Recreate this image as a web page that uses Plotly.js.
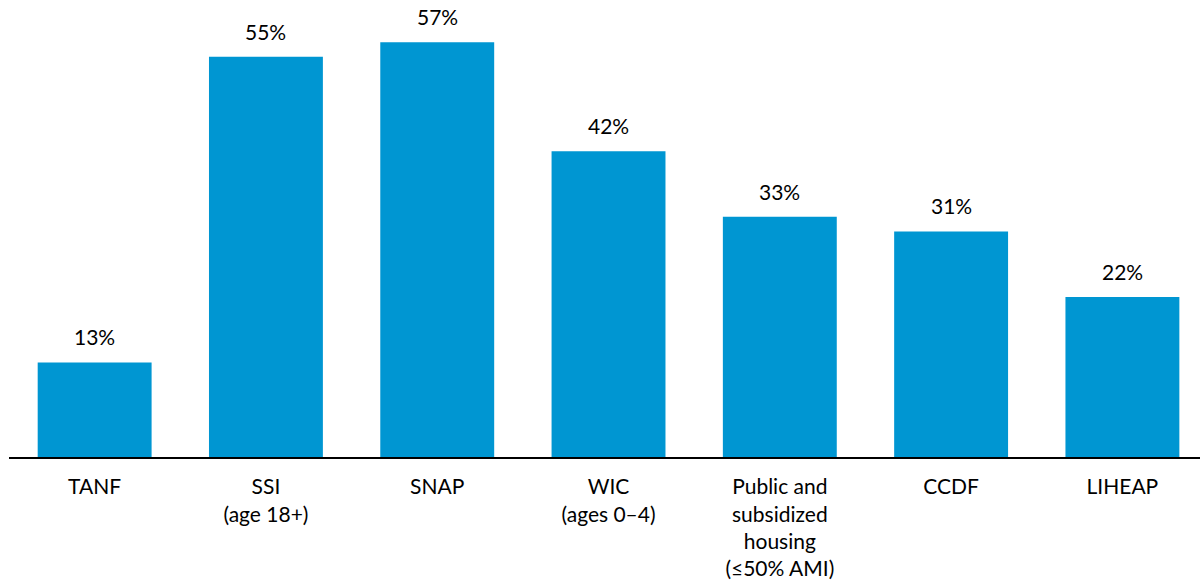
<!DOCTYPE html>
<html>
<head>
<meta charset="utf-8">
<script src="https://cdn.plot.ly/plotly-3.0.1.min.js"></script>
<style>
  html, body { margin: 0; padding: 0; background: #fff; }
  #chart { width: 1200px; height: 580px; }
</style>
</head>
<body>
<div id="chart"></div>
<script>
// Program names (tick labels) and share of eligible people served, in percent
const programs = [
  "TANF",
  "SSI<br>(age 18+)",
  "SNAP",
  "WIC<br>(ages 0\u20134)",
  "Public and<br>subsidized<br>housing<br>(\u226450% AMI)",
  "CCDF",
  "LIHEAP"
];
const shares = [13, 55, 57, 42, 33, 31, 22];

const barColor = "#0096d2";
const fontFamily = "Lato, 'Open Sans', sans-serif";

const trace = {
  type: "bar",
  x: programs,
  y: shares,
  marker: { color: barColor },
  hoverinfo: "skip"
};

// Value labels above each bar
const labels = programs.map((p, i) => ({
  x: p,
  y: shares[i],
  xref: "x",
  yref: "y",
  text: shares[i] + "%",
  showarrow: false,
  yanchor: "bottom",
  yshift: 11,
  font: { family: fontFamily, size: 21, color: "#000" }
}));

const layout = {
  width: 1200,
  height: 580,
  margin: { l: 9, r: 0, t: 0, b: 123 },
  paper_bgcolor: "#fff",
  plot_bgcolor: "#fff",
  bargap: 0.335,
  showlegend: false,
  font: { family: fontFamily, size: 21, color: "#000" },
  xaxis: {
    type: "category",
    range: [-0.5, 6.453],
    showline: true,
    linecolor: "#000",
    linewidth: 2,
    ticks: "",
    showgrid: false,
    zeroline: false,
    tickfont: { family: fontFamily, size: 21, color: "#000" },
    ticklabelstandoff: 10
  },
  yaxis: {
    range: [0, 62.8],
    visible: false,
    showgrid: false,
    zeroline: false
  },
  annotations: labels
};

Plotly.newPlot("chart", [trace], layout, { displayModeBar: false, staticPlot: true });
</script>
</body>
</html>
